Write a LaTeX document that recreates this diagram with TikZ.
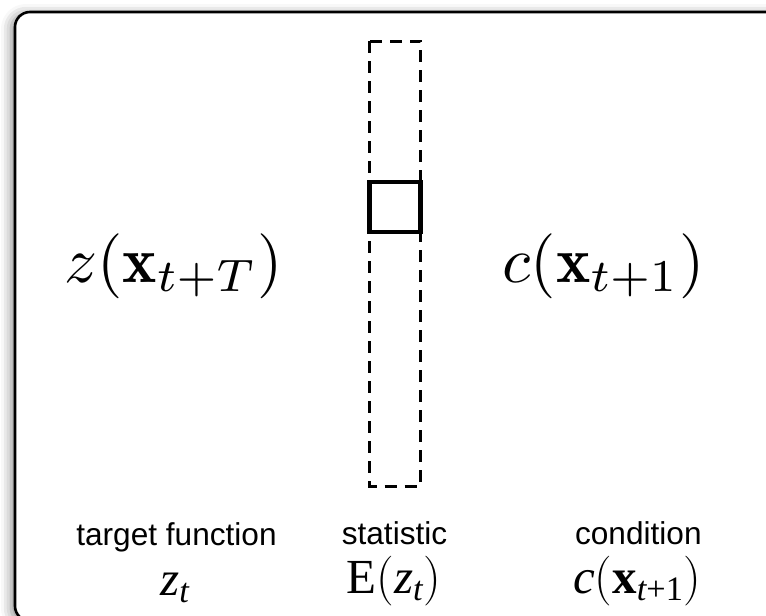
\documentclass[tikz,border=0pt]{standalone}
\usepackage{amsmath}
\usepackage{fontspec}
\usepackage{tikz}
\usetikzlibrary{shadows.blur}
\newfontfamily\labelfont{Liberation Sans}
\newfontfamily\timesfont{Liberation Serif}

\begin{document}
\begin{tikzpicture}[x=0.5pt,y=-0.5pt,
  frame/.style={draw=black,line width=1.3pt,fill=white,rounded corners=7.5pt,
    blur shadow={shadow xshift=-2pt,shadow yshift=-1pt,shadow blur radius=5pt,shadow opacity=45}},
  column/.style={draw=black,line width=1.5pt,dash pattern=on 6pt off 4pt},
  cell/.style={draw=black,line width=2.3pt},
  bigmath/.style={inner sep=0pt,font=\fontsize{10}{12}\selectfont,scale=3.25,transform shape},
  labeltext/.style={inner sep=0pt,font=\labelfont\fontsize{15.8}{18}\selectfont},
  smallmath/.style={inner sep=0pt,font=\timesfont\fontsize{24.5}{28}\selectfont}]
\useasboundingbox (0,0) rectangle (766,616);
\begin{scope}
\clip (0,0) rectangle (766,616);
\path[frame] (15,12) rectangle (800,621);
\end{scope}
% the statistic column and its cell
\draw[column] (369.5,41) rectangle (420.5,486);
\draw[cell] (369.5,182) rectangle (420.5,232);
% big formulas
\node[bigmath,anchor=base] (target) at (173.5,282) {$z(\mathbf{x}_{t+T})$};
\node[bigmath,anchor=base] (cond) at (603.5,282) {$c(\mathbf{x}_{t+1})$};
% captions
\node[labeltext,anchor=base] (targetlbl) at (176.5,545) {target function};
\node[labeltext,anchor=base] (statlbl) at (394.5,544) {statistic};
\node[labeltext,anchor=base east] (condlbl) at (702,544) {condition};
\node[smallmath,anchor=base] (targetsym) at (175,595) {\itshape z\textsubscript{t}};
\node[smallmath,anchor=base] (statsym) at (394,593) {E$($\textit{z}\textsubscript{\itshape t}$)$};
\node[smallmath,anchor=base east] (condsym) at (702,593) {\textit{c}$($\textbf{x}\textsubscript{\itshape t\upshape+1}$)$};
\end{tikzpicture}
\end{document}
